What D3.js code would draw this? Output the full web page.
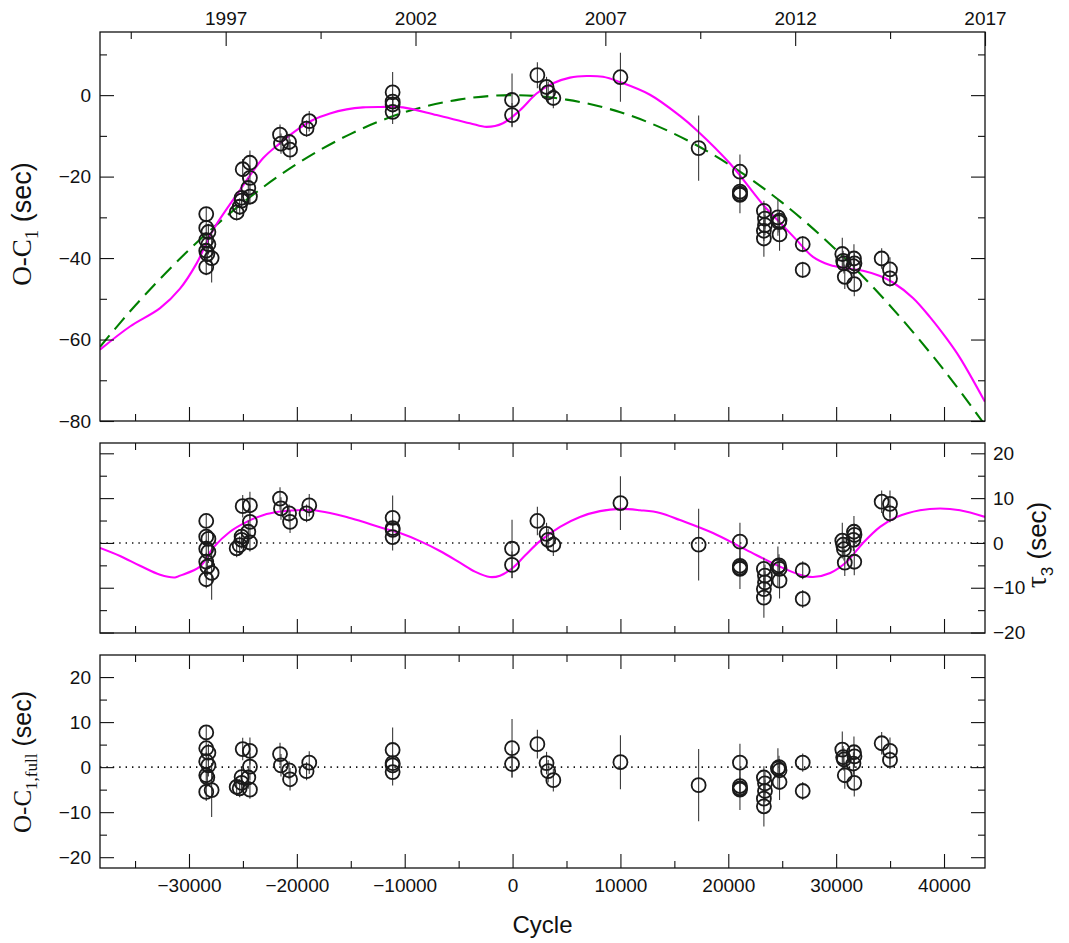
<!DOCTYPE html>
<html><head><meta charset="utf-8">
<script src="https://cdn.jsdelivr.net/npm/d3@7"></script>
<style>
html,body{margin:0;padding:0;background:#fff;}
text{font-family:"Liberation Sans",Arial,sans-serif;}
</style></head>
<body>
<svg id="chart" width="1069" height="943"></svg>
<script>
// ---------------- data ----------------
const cycles = [-28400,-28400,-28200,-28400,-28200,-28400,-28300,-27900,-28400,
  -25020,-24350,-24350,-24500,-25120,-25580,-25120,-24350,-25300,
  -21560,-21470,-20720,-20630,-18850,-19100,
  -11120,-11120,-11120,-11120,-50,-50,
  2300,3150,3300,3780,10000,17250,
  21080,21080,21080,21080,
  23300,23400,23400,23300,23300,24600,24750,24700,24750,
  26900,26900,
  30570,30650,30720,30800,31650,31700,31600,31680,
  34220,34990,34990];
const oc1 = [-29.2,-32.6,-33.6,-35.6,-36.6,-38.2,-39.0,-40.0,-42.2,
  -18.2,-16.6,-20.3,-22.8,-25.2,-28.8,-25.9,-24.9,-27.4,
  -9.7,-11.9,-11.5,-13.4,-6.4,-8.2,
  0.7,-1.6,-2.3,-4.1,-1.2,-4.9,
  4.9,2.0,0.7,-0.7,4.4,-13.0,
  -18.8,-23.7,-24.5,-24.2,
  -28.4,-30.3,-31.9,-33.3,-35.2,-30.0,-30.8,-31.2,-34.2,
  -36.6,-42.9,
  -39.0,-40.7,-41.3,-44.6,-40.1,-41.3,-42.0,-46.4,
  -40.1,-42.8,-45.0];
const tau3 = [4.9,1.4,0.9,-1.3,-2.0,-4.2,-5.3,-6.7,-8.1,
  8.2,8.4,4.7,2.5,1.4,-1.2,0.7,0.1,-0.5,
  9.9,7.7,6.6,4.7,8.4,6.6,
  5.6,3.3,2.9,1.3,-1.3,-4.9,
  4.9,2.0,0.7,-0.4,8.9,-0.4,
  0.3,-5.1,-5.8,-5.5,
  -5.8,-7.3,-8.8,-10.3,-12.2,-5.3,-5.8,-5.0,-8.4,
  -6.1,-12.5,
  0.5,-0.4,-1.4,-4.4,2.5,1.8,0.7,-4.2,
  9.2,8.7,6.6];
const ocFull = [7.7,4.2,3.2,1.3,0.4,-1.8,-2.3,-5.1,-5.5,
  4.0,3.6,0.1,-2.3,-2.2,-4.4,-3.5,-5.0,-4.7,
  2.9,0.4,-0.7,-2.7,1.0,-0.9,
  3.8,0.9,0.4,-1.1,4.2,0.7,
  5.1,0.9,-0.9,-2.9,1.1,-4.0,
  1.0,-4.2,-5.0,-4.7,
  -2.3,-3.6,-5.3,-7.0,-8.7,-0.3,-0.7,0.0,-3.3,
  1.0,-5.3,
  3.9,2.2,1.7,-1.8,3.3,2.4,0.8,-3.5,
  5.3,3.6,1.6];
const errs = [1.5,2.0,2.0,2.0,2.5,2.0,2.0,6.0,2.0,
  2.5,3.0,3.0,2.5,2.0,2.0,2.0,2.0,2.0,
  2.5,2.5,2.0,2.5,2.5,2.0,
  5.0,2.0,2.0,3.0,6.5,3.0,
  3.2,2.5,2.5,2.5,6.0,8.0,
  4.2,2.0,4.5,2.0,
  2.5,2.5,2.5,2.5,4.5,4.5,2.5,2.5,4.0,
  2.0,2.0,
  4.0,2.5,2.5,3.0,3.5,2.5,2.5,3.0,
  2.5,3.0,2.0];

// fitted curves
const quadCycles = [-38250,-35000,-30000,-25000,-20000,-15000,-10000,-5000,0,5000,10000,15000,20000,25000,30000,35000,40000,43800];
const quadValues = [-61.8,-51.7,-38.0,-26.4,-16.9,-9.5,-4.2,-1.1,0,-1.1,-4.2,-9.5,-16.9,-26.4,-38.0,-51.7,-67.5,-81.0];

const fullCycles = [-38250,-35470,-32680,-30830,-29290,-27770,-25270,-23140,-21560,-20020,-18510,-16930,-15380,-13870,-12290,-10160,-7040,-3950,-2400,-890,690,2230,3750,5320,6870,8380,9960,12740,15520,17070,20160,23220,24790,26340,27850,29430,30980,32490,34070,35270,37120,38700,40250,41480,43800];
const fullValues = [-62.5,-56.8,-52.3,-47.5,-41.3,-33.1,-23.3,-15.5,-11.8,-8.6,-6.1,-4.5,-3.5,-3.0,-2.9,-3.0,-4.9,-6.9,-7.8,-6.9,-3.7,0.4,2.9,4.3,4.7,4.5,3.2,0.1,-5.1,-8.6,-16.8,-26.9,-31.3,-35.6,-39.7,-41.7,-42.5,-43.1,-44.4,-46.0,-49.8,-54.5,-59.8,-64.5,-75.3];

const ltteCycles = [-38250,-36390,-34540,-32680,-31290,-30830,-28980,-27770,-26200,-24650,-23140,-21560,-20020,-18510,-16930,-15380,-13870,-12290,-10440,-8580,-6730,-4880,-3490,-2100,-1170,0,1200,2540,4400,6250,8100,9960,11820,13670,15520,18580,21700,24790,26640,27850,29450,30980,32490,34070,35620,37770,39630,41480,43800];
const ltteValues = [-1.1,-2.9,-5.1,-7.1,-7.7,-7.3,-5.3,-1.1,2.5,4.7,6.2,7.0,7.3,7.3,6.7,5.8,4.7,3.5,2.2,0.4,-1.8,-4.4,-6.4,-7.6,-7.3,-5.6,-2.7,0.4,3.6,5.8,7.1,7.6,7.3,6.7,5.1,2.2,-1.6,-5.3,-7.1,-7.6,-6.7,-4.2,0.0,3.6,5.8,7.3,7.7,7.3,5.8];

const topYTicks = [0,-20,-40,-60,-80];
const sideTicks = [20,10,0,-10,-20];
const cycleTicks = [-30000,-20000,-10000,0,10000,20000,30000,40000];
const yearTicks = [1997,2002,2007,2012,2017];

// ---------------- layout ----------------
const svg = d3.select("#chart");
const X0 = 100, X1 = 985;
const P = {
  top: {y0: 32, y1: 421},
  mid: {y0: 443, y1: 633},
  bot: {y0: 655, y1: 868}
};
const x = d3.scaleLinear().domain([-38250, 43800]).range([X0, X1]);
const xYear = d3.scaleLinear().domain([1993.69, 2017.0]).range([X0, X1]);
const yTop = d3.scaleLinear().domain([-80, 15.5]).range([P.top.y1, P.top.y0]);
const yMid = d3.scaleLinear().domain([-20.1, 22.3]).range([P.mid.y1, P.mid.y0]);
const yBot = d3.scaleLinear().domain([-22.4, 24.9]).range([P.bot.y1, P.bot.y0]);

const MAJ = 14, MIN = 7;
const majorCycles = cycleTicks;
const minorCycles = d3.range(-35000, 43801, 5000).filter(v => v % 10000 !== 0);

function styleAxis(g, fs) {
  g.select(".domain").remove();
  g.selectAll(".tick line").attr("stroke", "#111").attr("stroke-width", 1.1);
  g.selectAll(".tick text").attr("fill", "#111").style("font-size", fs + "px")
    .style("font-family", '"Liberation Sans", Arial, sans-serif');
}

function frame(p, clipId) {
  svg.append("defs").append("clipPath").attr("id", clipId)
    .append("rect").attr("x", X0).attr("y", p.y0).attr("width", X1 - X0).attr("height", p.y1 - p.y0);
}

function xTicks(p, showLabels) {
  const gb = svg.append("g").attr("transform", `translate(0,${p.y1})`);
  gb.call(d3.axisBottom(x).tickValues(majorCycles).tickSizeInner(-MAJ).tickSizeOuter(0)
    .tickPadding(11).tickFormat(showLabels ? d3.format("d") : () => ""));
  styleAxis(gb, 19);
  const gbm = svg.append("g").attr("transform", `translate(0,${p.y1})`);
  gbm.call(d3.axisBottom(x).tickValues(minorCycles).tickSizeInner(-MIN).tickSizeOuter(0).tickFormat(() => ""));
  styleAxis(gbm, 19);
}
function xTicksTop(p) {
  const gt = svg.append("g").attr("transform", `translate(0,${p.y0})`);
  gt.call(d3.axisTop(x).tickValues(majorCycles).tickSizeInner(-MAJ).tickSizeOuter(0).tickFormat(() => ""));
  styleAxis(gt, 19);
  const gtm = svg.append("g").attr("transform", `translate(0,${p.y0})`);
  gtm.call(d3.axisTop(x).tickValues(minorCycles).tickSizeInner(-MIN).tickSizeOuter(0).tickFormat(() => ""));
  styleAxis(gtm, 19);
}
function yTicks(y, p, major, minor, leftLabels, rightLabels) {
  const gl = svg.append("g").attr("transform", `translate(${X0},0)`);
  gl.call(d3.axisLeft(y).tickValues(major).tickSizeInner(-MAJ).tickSizeOuter(0).tickPadding(9)
    .tickFormat(leftLabels ? d3.format("d") : () => ""));
  styleAxis(gl, 19);
  const glm = svg.append("g").attr("transform", `translate(${X0},0)`);
  glm.call(d3.axisLeft(y).tickValues(minor).tickSizeInner(-MIN).tickSizeOuter(0).tickFormat(() => ""));
  styleAxis(glm, 19);
  const gr = svg.append("g").attr("transform", `translate(${X1},0)`);
  gr.call(d3.axisRight(y).tickValues(major).tickSizeInner(-MAJ).tickSizeOuter(0).tickPadding(8)
    .tickFormat(rightLabels ? d3.format("d") : () => ""));
  styleAxis(gr, 19);
  const grm = svg.append("g").attr("transform", `translate(${X1},0)`);
  grm.call(d3.axisRight(y).tickValues(minor).tickSizeInner(-MIN).tickSizeOuter(0).tickFormat(() => ""));
  styleAxis(grm, 19);
}

function border(p) {
  svg.append("rect").attr("x", X0).attr("y", p.y0).attr("width", X1 - X0).attr("height", p.y1 - p.y0)
    .attr("fill", "none").attr("stroke", "#111").attr("stroke-width", 1.3);
}

function points(y, vals, clipId) {
  const g = svg.append("g").attr("clip-path", `url(#${clipId})`);
  const idx = d3.range(cycles.length);
  g.selectAll("line.err").data(idx).join("line")
    .attr("x1", i => x(cycles[i])).attr("x2", i => x(cycles[i]))
    .attr("y1", i => y(vals[i] + errs[i])).attr("y2", i => y(vals[i] - errs[i]))
    .attr("stroke", "#3a3a3a").attr("stroke-width", 1.1);
  g.selectAll("circle").data(idx).join("circle")
    .attr("cx", i => x(cycles[i])).attr("cy", i => y(vals[i])).attr("r", 7)
    .attr("fill", "none").attr("stroke", "#1a1a1a").attr("stroke-width", 1.8);
}

function curve(y, cs, vs, clipId, color, dash) {
  const line = d3.line().x(d => x(d[0])).y(d => y(d[1])).curve(d3.curveCatmullRom.alpha(0.5));
  svg.append("path").attr("clip-path", `url(#${clipId})`)
    .attr("d", line(cs.map((c, i) => [c, vs[i]])))
    .attr("fill", "none").attr("stroke", color).attr("stroke-width", 2.1)
    .attr("stroke-dasharray", dash || null);
}

function zeroLine(y, clipId) {
  svg.append("line").attr("clip-path", `url(#${clipId})`)
    .attr("x1", X0).attr("x2", X1).attr("y1", y(0)).attr("y2", y(0))
    .attr("stroke", "#111").attr("stroke-width", 1.6).attr("stroke-dasharray", "1.4 5");
}

// ---------------- top panel ----------------
frame(P.top, "clipTop");
curve(yTop, quadCycles, quadValues, "clipTop", "#008000", "15 8");
curve(yTop, fullCycles, fullValues, "clipTop", "#ff00ff");
points(yTop, oc1, "clipTop");
border(P.top);
xTicks(P.top, false);
yTicks(yTop, P.top, topYTicks, [10, -10, -30, -50, -70], true, false);
{
  const g = svg.append("g").attr("transform", `translate(0,${P.top.y0})`);
  g.call(d3.axisTop(xYear).tickValues(yearTicks).tickSizeInner(-MAJ).tickSizeOuter(0).tickPadding(7).tickFormat(d3.format("d")));
  styleAxis(g, 19);
  const gm = svg.append("g").attr("transform", `translate(0,${P.top.y0})`);
  gm.call(d3.axisTop(xYear).tickValues([1994.5, 1999.5, 2004.5, 2009.5, 2014.5]).tickSizeInner(-MIN).tickSizeOuter(0).tickFormat(() => ""));
  styleAxis(gm, 19);
}

// ---------------- middle panel ----------------
frame(P.mid, "clipMid");
zeroLine(yMid, "clipMid");
curve(yMid, ltteCycles, ltteValues, "clipMid", "#ff00ff");
points(yMid, tau3, "clipMid");
border(P.mid);
xTicksTop(P.mid);
xTicks(P.mid, false);
yTicks(yMid, P.mid, sideTicks, [15, 5, -5, -15], false, true);

// ---------------- bottom panel ----------------
frame(P.bot, "clipBot");
zeroLine(yBot, "clipBot");
points(yBot, ocFull, "clipBot");
border(P.bot);
xTicksTop(P.bot);
xTicks(P.bot, true);
yTicks(yBot, P.bot, sideTicks, [15, 5, -5, -15], true, false);

// ---------------- titles ----------------
const serif = '"Liberation Serif","Times New Roman",serif';
const sans = '"Liberation Sans",Arial,sans-serif';
function yTitle(cx, cy, main, sub, tail, fs, subfs, shift) {
  const t = svg.append("text").attr("transform", `translate(${cx},${cy}) rotate(-90)`)
    .attr("text-anchor", "middle").style("font-size", fs + "px").attr("fill", "#111");
  t.append("tspan").text(main).style("font-family", serif);
  t.append("tspan").text(sub).attr("dy", shift).style("font-size", subfs + "px").style("font-family", serif);
  t.append("tspan").text(tail).attr("dy", -shift).style("font-family", sans);
}
yTitle(31, 224, "O-C", "1", " (sec)", 27, 19, 7);
yTitle(31, 762, "O-C", "1,full", " (sec)", 25, 17, 6);
{
  const t = svg.append("text").attr("transform", `translate(1046,545) rotate(-90)`)
    .attr("text-anchor", "middle").style("font-size", "26px").attr("fill", "#111");
  t.append("tspan").text("τ").style("font-family", serif).style("font-size", "30px");
  t.append("tspan").text("3").attr("dy", 7).style("font-size", "17px").style("font-family", sans);
  t.append("tspan").text(" (sec)").attr("dy", -7).style("font-family", sans);
}
svg.append("text").attr("x", (X0 + X1) / 2).attr("y", 933).attr("text-anchor", "middle")
  .style("font-size", "24px").attr("fill", "#111").text("Cycle");
</script>
</body></html>
